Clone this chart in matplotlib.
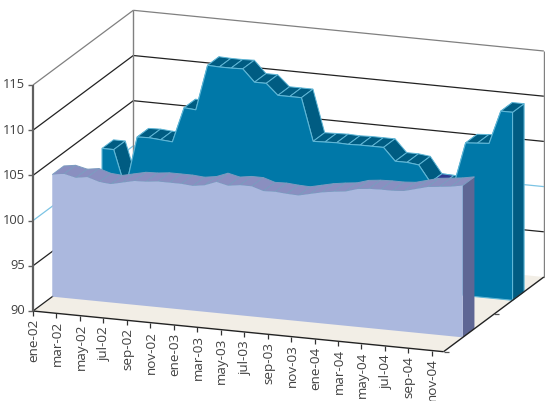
import matplotlib
matplotlib.use("Agg")
import matplotlib.pyplot as plt

plt.rcParams['font.family'] = ['Open Sans', 'DejaVu Sans']

# one point per month, ene-02 to dic-04
back_values = [102.3, 102.3, 98.1, 103.95, 104.0, 103.9, 103.8, 107.7, 107.6, 112.65,
               112.6, 112.6, 112.65, 111.3, 111.3, 110.1, 110.1, 110.1, 105.4, 105.45,
               105.5, 105.45, 105.5, 105.5, 105.5, 104.1, 104.1, 103.95, 102.15, 102.1,
               102.15, 106.9, 107.0, 107.1, 110.8, 110.8]
front_values = [103.5, 103.7, 103.4, 103.6, 103.2, 103.1, 103.4, 103.7, 103.75, 103.9,
                103.9, 103.9, 103.8, 104.0, 104.5, 104.2, 104.4, 104.4, 104.0, 104.05,
                103.95, 103.9, 104.2, 104.5, 104.7, 104.85, 105.25, 105.4, 105.45, 105.45,
                105.55, 105.9, 106.25, 106.4, 106.55, 106.8]
x_labels = ['ene-02', 'mar-02', 'may-02', 'jul-02', 'sep-02', 'nov-02',
            'ene-03', 'mar-03', 'may-03', 'jul-03', 'sep-03', 'nov-03',
            'ene-04', 'mar-04', 'may-04', 'jul-04', 'sep-04', 'nov-04']
y_ticks = [90, 95, 100, 105, 110, 115]
grid_colors = ['#333333', '#222222', '#7CC4E4', '#222222', '#222222', '#808080']

# oblique projection of (month, value, depth), result is in pixels
def project(month, value, depth):
    x = 33 + 11.73 * month + 100.3 * depth
    y = 311 + 1.163 * month - 9.04 * (value - 90) - 74.7 * depth
    return x, y

def quad(m1, v1, d1, m2, v2, d2, color, edge='none', lw=0.7):
    pts = [project(m1, v1, d1), project(m2, v2, d1), project(m2, v2, d2), project(m1, v1, d2)]
    ax.fill([p[0] for p in pts], [p[1] for p in pts], facecolor=color, edgecolor=edge, linewidth=lw, zorder=2)

def line(p1, p2, color, lw=1.0):
    ax.plot([p1[0], p2[0]], [p1[1], p2[1]], color=color, linewidth=lw, solid_capstyle='butt', zorder=2)

def area(values, d1, d2, face, top, side, top_edge, face_edge):
    n = len(values) - 1
    # side at the right end, then top faces, then front face over them
    quad(n, 90, d1, n, values[n], d2, side)
    pts = [project(n, 90, d1), project(n, 90, d2), project(n, values[n], d2), project(n, values[n], d1)]
    if face_edge != 'none':
        ax.plot([p[0] for p in pts], [p[1] for p in pts], color=face_edge, linewidth=0.8, zorder=2)
    for i in range(n):
        quad(i, values[i], d1, i + 1, values[i + 1], d2, top, edge=top_edge)
    front = [project(0, 90, d1)] + [project(i, v, d1) for i, v in enumerate(values)] + [project(n, 90, d1)]
    ax.fill([p[0] for p in front], [p[1] for p in front], facecolor=face, edgecolor=face_edge, linewidth=0.8, zorder=2)

fig = plt.figure(figsize=(5.45, 4.01), dpi=100)
ax = fig.add_axes([0, 0, 1, 1])
ax.set_xlim(0, 545)
ax.set_ylim(401, 0)
ax.axis('off')
M = 35

# gridlines on the left and back walls
for v, c in zip(y_ticks[1:], grid_colors[1:]):
    line(project(0, v, 0), project(0, v, 1), c, 0.9)
    line(project(0, v, 1), project(M, v, 1), c, 0.9)
line(project(0, 90, 1), project(0, 115, 1), '#808080', 1.0)
line(project(M, 90, 1), project(M, 115, 1), '#808080', 1.0)

# floor
quad(0, 90, 0, M, 90, 1, '#F2EEE6')
line(project(0, 90, 0), project(0, 90, 1), '#222222', 0.9)

area(back_values, 0.688, 0.803, '#0078A8', '#005C82', '#005C82', '#5FB6D6', '#5FB6D6')
# the low stretch at the end of the back series shows darker
quad(28, back_values[28], 0.688, 29, back_values[29], 0.803, '#2E3A90', edge='#5FB6D6')
area(front_values, 0.192, 0.308, '#ABB8DE', '#8A8FC0', '#5E6694', '#7C9CC0', 'none')

# axes
line(project(0, 90, 0), project(M, 90, 0), '#222222', 1.0)
line(project(M, 90, 0), project(M, 90, 1), '#222222', 1.0)
line(project(0, 90, 0), project(0, 115, 0), '#606060', 1.6)

for v in y_ticks:
    x, y = project(0, v, 0)
    line((x - 5, y), (x, y), '#606060', 1.0)
    ax.text(x - 8, y, str(v), ha='right', va='center', fontsize=9.3, color='#404040')

for k, lab in enumerate(x_labels):
    x, y = project(2 * k, 90, 0)
    line((x, y), (x, y + 5), '#333333', 0.9)
    ax.text(x + 1, y + 8, lab, rotation=90, ha='center', va='top', fontsize=9.7, color='#404040')

for d in [0, 0.5, 1]:
    x, y = project(M, 90, d)
    line((x, y), (x + 5, y), '#555555', 0.9)

fig.savefig('out.png', dpi=100)
